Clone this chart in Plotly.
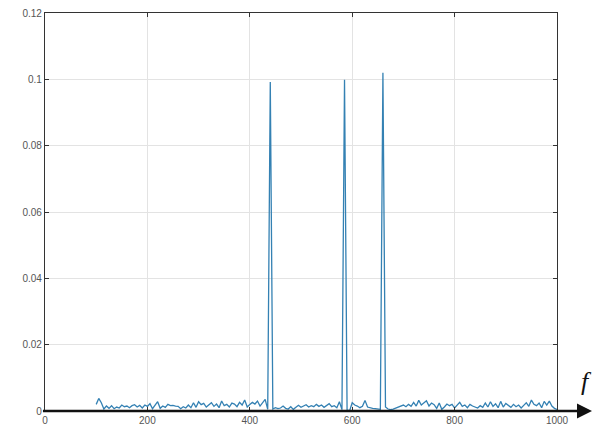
import plotly.graph_objects as go

# frequency grid and spectrum amplitude (in units of 1e-3)
freq = list(range(100, 1001, 5))
amp_milli = [
    2.0, 3.8, 2.5, 0.6, 1.5, 0.8, 1.6, 0.7, 1.2, 0.9,
    1.8, 1.3, 1.5, 1.0, 1.6, 1.9, 1.2, 1.7, 0.9, 1.8,
    1.4, 2.2, 0.7, 1.9, 2.8, 0.8, 1.5, 1.1, 2.0, 1.6,
    1.7, 1.5, 1.4, 0.7, 1.3, 0.9, 1.8, 1.0, 2.5, 1.1,
    2.8, 1.9, 2.3, 1.2, 1.8, 2.5, 1.4, 2.1, 1.0, 3.0,
    1.6, 2.0, 1.2, 2.4, 2.1, 1.3, 2.6, 1.8, 3.3, 1.2,
    2.0, 2.6, 2.1, 3.0, 1.5, 2.4, 3.5, 0.5, 99.2, 0.6,
    1.0, 0.7, 0.9, 1.5, 0.8, 0.6, 1.3, 0.5, 1.2, 1.7,
    1.1, 1.5, 1.9, 1.2, 1.6, 1.3, 2.0, 1.4, 1.8, 1.1,
    1.7, 2.2, 1.3, 1.6, 1.0, 2.8, 0.4, 99.9, 0.3, 0.1,
    2.5, 1.8, 1.5, 1.0, 1.4, 3.2, 1.2, 0.9, 0.8, 0.7,
    0.6, 0.5, 102.0, 1.2, 0.6, 0.4, 0.6, 0.9, 1.2, 1.5,
    1.8, 1.3, 2.0, 1.4, 2.6, 1.5, 3.2, 1.8, 2.5, 3.1,
    1.5, 2.4, 1.9, 0.8, 2.4, 0.5, 1.2, 2.1, 1.6, 2.0,
    0.9, 1.9, 2.6, 1.4, 1.8, 1.0, 2.0, 1.5, 1.3, 0.9,
    1.6, 1.1, 2.4, 1.2, 2.8, 1.4, 2.2, 1.0, 2.9, 1.2,
    2.3, 1.6, 1.1, 2.0, 1.3, 1.8, 0.9, 1.7, 2.5, 1.4,
    3.3, 2.0, 1.6, 2.4, 1.0, 2.9, 1.8, 3.0, 1.5, 0.8,
    0.5,
]
amp = [v * 1e-3 for v in amp_milli]
n = min(len(freq), len(amp))
freq, amp = freq[:n], amp[:n]

x_ticks = [0, 200, 400, 600, 800, 1000]
y_ticks = [0, 0.02, 0.04, 0.06, 0.08, 0.1, 0.12]
y_labels = ["0", "0.02", "0.04", "0.06", "0.08", "0.1", "0.12"]

fig = go.Figure()
fig.add_trace(go.Scatter(
    x=freq, y=amp, mode="lines",
    line=dict(color="#3481b3", width=1.3),
    showlegend=False,
))

axis_common = dict(
    showgrid=True, gridcolor="#e3e3e3", gridwidth=1,
    showline=True, linecolor="#333333", linewidth=1.2, mirror="allticks",
    ticks="inside", ticklen=4, tickcolor="#333333",
    tickfont=dict(family="Liberation Sans, Arial, sans-serif", size=10, color="#555555"),
    zeroline=False, automargin=False,
)

fig.update_xaxes(range=[0, 1000], tickvals=x_ticks, **axis_common)
fig.update_yaxes(range=[0, 0.12], tickvals=y_ticks, ticktext=y_labels, **axis_common)

# extended bold horizontal axis with arrow
fig.add_shape(type="line", xref="paper", yref="paper",
              x0=-0.004, x1=1.06, y0=0, y1=0,
              line=dict(color="#111111", width=2.5))
fig.add_annotation(xref="paper", yref="paper", x=1.075, y=0,
                   ax=-14, ay=0, axref="pixel", ayref="pixel",
                   showarrow=True, arrowhead=2, arrowsize=1.2, arrowwidth=2.5,
                   arrowcolor="#111111", text="")
fig.add_annotation(xref="paper", yref="paper", x=1.042, y=0.075,
                   xanchor="left", yanchor="middle", showarrow=False,
                   text="<i>f</i>",
                   font=dict(family="Liberation Serif, serif", size=26, color="#111111"))

fig.update_layout(
    width=593, height=429,
    margin=dict(l=45, r=36, t=13, b=18, autoexpand=False),
    paper_bgcolor="white", plot_bgcolor="white",
)

fig.write_html("out.html")
